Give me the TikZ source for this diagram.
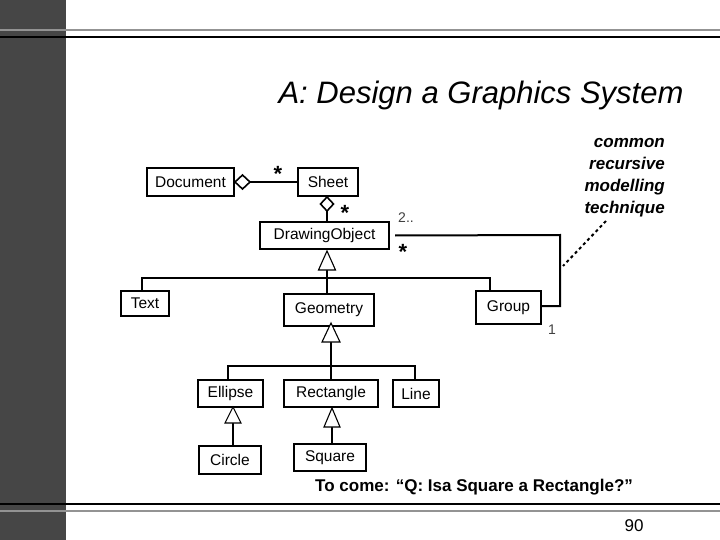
\documentclass[tikz,border=0pt]{standalone}
\usepackage{fontspec}
\setmainfont{Liberation Sans}
\begin{document}
\begin{tikzpicture}[x=1pt,y=-1pt,
  cls/.style={draw,line width=2pt,inner sep=0pt,anchor=north west,font=\fontsize{15.5}{16}\selectfont},
  ln/.style={line width=2pt},
  tri/.style={draw,line width=1.1pt,fill=white},
  dia/.style={draw,line width=1.6pt,fill=white},
  star/.style={font=\fontsize{22}{22}\selectfont\bfseries,inner sep=0pt}]
\useasboundingbox (0,0) rectangle (720,540);
\fill[fill={rgb,255:red,70;green,70;blue,70}] (0,0) rectangle (66,540);
\draw[line width=2.4pt,gray!85] (0,30) -- (720,30);
\draw[line width=2.4pt] (0,37) -- (720,37);
\draw[line width=2.4pt] (0,504) -- (720,504);
\draw[line width=2.4pt,gray!85] (0,511) -- (720,511);
\node[anchor=center,font=\fontsize{31}{33}\selectfont\itshape] (title) at (481,95) {A: Design a Graphics System};
% classes
\node[cls,minimum width=87pt,minimum height=28pt] (doc) at (146,167) {Document};
\node[cls,minimum width=60pt,minimum height=28pt] (sheet) at (297,167) {Sheet};
\node[cls,minimum width=129pt,minimum height=27pt] (dobj) at (259,221) {DrawingObject};
\node[cls,minimum width=48pt,minimum height=25pt] (text) at (120,290) {Text};
\node[cls,minimum width=90pt,minimum height=32pt] (geom) at (283,293) {Geometry};
\node[cls,minimum width=65pt,minimum height=33pt] (group) at (475,290) {Group};
\node[cls,minimum width=65pt,minimum height=27pt] (ell) at (197,379) {Ellipse};
\node[cls,minimum width=94pt,minimum height=27pt] (rect) at (283,379) {Rectangle};
\node[cls,minimum width=46pt,minimum height=27pt] (line) at (392,379) {Line};
\node[cls,minimum width=62pt,minimum height=28pt] (circ) at (198,445) {Circle};
\node[cls,minimum width=72pt,minimum height=27pt] (sq) at (293,443) {Square};
% aggregation Document-Sheet
\draw[ln] ([xshift=15pt]doc.east) -- (sheet.west);
\draw[dia] (doc.east) -- ++(7.5,-7) -- ++(7.5,7) -- ++(-7.5,7) -- cycle;
\node[star] (s1) at (278,174) {*};
% aggregation Sheet-DrawingObject
\draw[ln] (327,209) -- (dobj.north -| 327,0);
\draw[dia] (sheet.south -| 327,0) -- ++(6.5,7) -- ++(-6.5,7) -- ++(-6.5,-7) -- cycle;
\node[star] (s2) at (345,213) {*};
% recursive association
\coordinate (r1) at (560,235);
\coordinate (r2) at (560,306);
\draw[ln] ([xshift=5pt]dobj.east) -- (r1) -- (r2) -- (group.east |- r2);
\node[font=\fontsize{14}{14}\selectfont,text=black!75] (m1) at (406,218) {2..};
\node[star] (s3) at (403,252) {*};
\node[font=\fontsize{14}{14}\selectfont,text=black!75] (m2) at (552,330) {1};
% inheritance from DrawingObject
\coordinate (j1) at (327,278);
\draw[ln] (327,270) -- (j1);
\draw[ln] (text.north -| 142,0) -- (142,278) -- (490,278) -- (group.north -| 490,0);
\draw[ln] (j1) -- (geom.north -| 327,0);
\draw[tri] (327,251) -- (335.5,270) -- (318.5,270) -- cycle;
% inheritance from Geometry
\coordinate (j2) at (331,366);
\draw[ln] (331,342) -- (j2);
\draw[ln] (ell.north -| 228,0) -- (228,366) -- (415,366) -- (line.north -| 415,0);
\draw[ln] (j2) -- (rect.north -| 331,0);
\draw[tri] (331,323) -- (340,342) -- (322,342) -- cycle;
% Circle -> Ellipse
\draw[ln] (circ.north -| 233,0) -- (233,423);
\draw[tri] (233,407) -- (241,423) -- (225,423) -- cycle;
% Square -> Rectangle
\draw[ln] (sq.north -| 332,0) -- (332,427);
\draw[tri] (332,408) -- (340,427) -- (324,427) -- cycle;
% annotation
\node[align=right,anchor=north east,font=\fontsize{17}{22}\selectfont\bfseries\itshape,inner sep=0pt] (note) at (665,138) {common\\recursive\\modelling\\technique};
\coordinate (nt) at (606,221);
\draw[line width=2pt,dashed] (nt) -- (563,266);
\node[font=\fontsize{17}{20}\selectfont\bfseries,anchor=west,inner sep=0pt] (come) at (315,487) {To come: “Q: Isa Square a Rectangle?”};
\node[font=\fontsize{17}{20}\selectfont] (pg) at (634,526) {90};
\end{tikzpicture}
\end{document}
